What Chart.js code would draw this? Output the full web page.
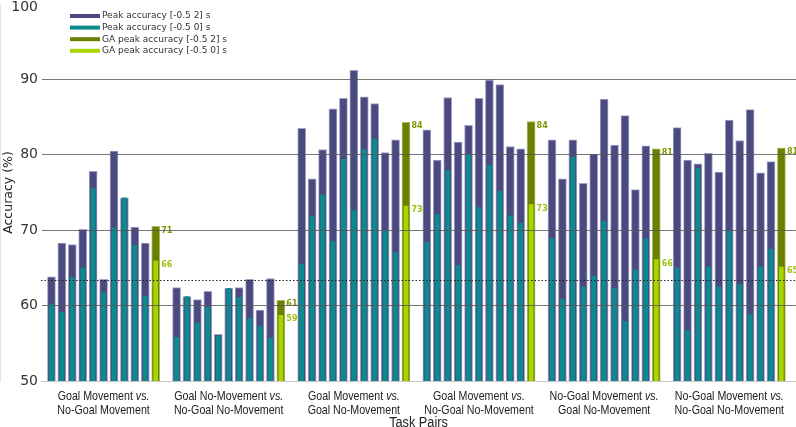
<!DOCTYPE html>
<html>
<head>
<meta charset="utf-8">
<script src="https://cdn.jsdelivr.net/npm/chart.js@4.4.1/dist/chart.umd.min.js"></script>
<style>
html,body{margin:0;padding:0;background:#fff;overflow:hidden}
#wrap{width:796px;height:427px;position:relative}
</style>
</head>
<body>
<div id="wrap"><canvas id="c" width="796" height="427"></canvas></div>
<script>
// ---- data ----
const taskPairs = [
  ['Goal Movement', 'No-Goal Movement'],
  ['Goal No-Movement', 'No-Goal No-Movement'],
  ['Goal Movement', 'Goal No-Movement'],
  ['Goal Movement', 'No-Goal No-Movement'],
  ['No-Goal Movement', 'Goal No-Movement'],
  ['No-Goal Movement', 'No-Goal No-Movement']
];
const seriesNames = ['Peak accuracy [-0.5 2] s', 'Peak accuracy [-0.5 0] s',
                     'GA peak accuracy [-0.5 2] s', 'GA peak accuracy [-0.5 0] s'];
const peakLong = [
  [63.8, 68.3, 68.1, 70.1, 77.8, 63.5, 80.5, 74.3, 70.4, 68.3],
  [62.4, 61.2, 60.8, 61.9, 56.2, 62.3, 62.4, 63.5, 59.4, 63.6],
  [83.5, 76.8, 80.7, 86.1, 87.5, 91.2, 87.7, 86.8, 80.3, 82.0],
  [83.3, 79.3, 87.6, 81.7, 83.9, 87.5, 89.9, 89.3, 81.1, 80.8],
  [82.0, 76.8, 82.0, 76.2, 80.1, 87.4, 81.3, 85.2, 75.4, 81.2],
  [83.6, 79.3, 78.8, 80.2, 77.7, 84.6, 81.9, 86.0, 77.6, 79.1]
];
const peakShort = [
  [60.2, 59.1, 63.7, 65.0, 75.5, 61.7, 70.3, 74.3, 68.0, 61.2],
  [55.8, 61.2, 57.7, 59.8, 56.0, 62.3, 61.1, 58.3, 57.3, 55.7],
  [65.5, 71.8, 74.7, 68.5, 79.4, 72.6, 80.7, 82.1, 70.0, 67.0],
  [68.4, 72.1, 77.9, 65.3, 80.1, 73.0, 78.6, 75.2, 71.9, 70.9],
  [68.9, 60.8, 79.7, 62.5, 63.9, 71.2, 62.3, 57.9, 64.7, 68.9],
  [65.0, 56.7, 78.2, 65.1, 62.5, 69.9, 62.8, 58.8, 65.1, 67.5]
];
const gaLong  = [70.5, 60.7, 84.3, 84.4, 80.8, 80.9];
const gaShort = [65.9, 58.7, 73.2, 73.4, 66.1, 65.1];
const chanceLevel = 63.4;
const yTicks = [50, 60, 70, 80, 90, 100];
const xTitle = 'Task Pairs';
const yTitle = 'Accuracy (%)';

// ---- slot positions (index units on the x scale) ----
const SLOTS_PER_GROUP = 12;   // 10 subjects + GA + gap
const slotOf = (g, j) => 1 + g * SLOTS_PER_GROUP + j;
const subjPts = arr => arr.flatMap((vals, g) => vals.map((v, j) => ({x: slotOf(g, j), y: v})));
const gaPts = arr => arr.map((v, g) => ({x: slotOf(g, 10), y: v}));

const COL = {
  long: '#4b4a80', longEdge: '#a3a2c8',
  short: '#088c8c',
  gaLong: '#6b8000', gaLongEdge: '#a9bb66',
  gaShort: '#a8d400',
  gaLongTxt: '#7e9500', gaShortTxt: '#9fc212'
};
const SANS = "'Liberation Sans', Arial, sans-serif";
const SQUEEZE = 0.82;   // condensed look

function condensedText(ctx, text, x, y, font, align) {
  ctx.save();
  ctx.font = font;
  const w = ctx.measureText(text).width * SQUEEZE;
  let sx = x;
  if (align === 'center') sx = x - w / 2;
  else if (align === 'right') sx = x - w;
  ctx.translate(sx, y);
  ctx.scale(SQUEEZE, 1);
  ctx.textAlign = 'left';
  ctx.fillText(text, 0, 0);
  ctx.restore();
  return w;
}
function condensedWidth(ctx, text, font) {
  ctx.save(); ctx.font = font;
  const w = ctx.measureText(text).width * SQUEEZE;
  ctx.restore(); return w;
}

const chanceLine = {
  id: 'chanceLine',
  afterDatasetsDraw(chart) {
    const {ctx, chartArea: a, scales: {y}} = chart;
    const py = Math.round(y.getPixelForValue(chanceLevel)) + 0.5;
    ctx.save();
    ctx.strokeStyle = '#222';
    ctx.lineWidth = 1;
    ctx.setLineDash([1.5, 2]);
    ctx.beginPath(); ctx.moveTo(a.left, py); ctx.lineTo(a.right, py); ctx.stroke();
    ctx.restore();
  }
};

const gaValueLabels = {
  id: 'gaValueLabels',
  afterDatasetsDraw(chart) {
    const {ctx} = chart;
    ctx.save();
    ctx.font = "bold 8px 'DejaVu Sans'";
    ctx.textAlign = 'left';
    ctx.textBaseline = 'middle';
    [[2, COL.gaLongTxt], [3, COL.gaShortTxt]].forEach(([di, col]) => {
      const meta = chart.getDatasetMeta(di);
      ctx.fillStyle = col;
      meta.data.forEach((bar, i) => {
        const v = chart.data.datasets[di].data[i].y;
        ctx.fillText(String(Math.round(v)), bar.x + 5.5, bar.y + 4);
      });
    });
    ctx.restore();
  }
};

const groupLabels = {
  id: 'groupLabels',
  afterDraw(chart) {
    const {ctx, chartArea: a, scales: {x}} = chart;
    ctx.save();
    ctx.fillStyle = '#222';
    ctx.textBaseline = 'middle';
    const fN = "13px " + SANS, fI = "italic 13px " + SANS;
    taskPairs.forEach(([t1, t2], g) => {
      const cx = x.getPixelForValue(slotOf(g, 5));
      const w1 = condensedWidth(ctx, t1 + ' ', fN);
      const w2 = condensedWidth(ctx, 'vs.', fI);
      const sx = cx - (w1 + w2) / 2;
      condensedText(ctx, t1 + ' ', sx, a.bottom + 15, fN, 'left');
      condensedText(ctx, 'vs.', sx + w1, a.bottom + 15, fI, 'left');
      condensedText(ctx, t2, cx, a.bottom + 29, fN, 'center');
    });
    condensedText(ctx, xTitle, (a.left + a.right) / 2, a.bottom + 42, "15.5px " + SANS, 'center');
    ctx.restore();
  }
};

const boxLegend = {
  id: 'boxLegend',
  afterDraw(chart) {
    const {ctx} = chart;
    const cols = [COL.long, COL.short, COL.gaLong, COL.gaShort];
    ctx.save();
    ctx.font = "9px 'DejaVu Sans'";
    ctx.textBaseline = 'middle';
    ctx.textAlign = 'left';
    chart.data.datasets.forEach((ds, i) => {
      const cy = 16 + i * 11.6;
      ctx.fillStyle = cols[i];
      ctx.fillRect(70, cy - 2, 30, 4);
      ctx.fillStyle = '#333';
      ctx.fillText(ds.label, 102, cy);
    });
    ctx.restore();
  }
};

new Chart(document.getElementById('c'), {
  type: 'bar',
  data: {
    datasets: [
      {label: seriesNames[0], data: subjPts(peakLong), backgroundColor: COL.long, borderColor: COL.longEdge,
       borderWidth: 1, barThickness: 8, grouped: false, order: 4},
      {label: seriesNames[1], data: subjPts(peakShort), backgroundColor: COL.short,
       borderWidth: 0, barThickness: 4, grouped: false, order: 3},
      {label: seriesNames[2], data: gaPts(gaLong), backgroundColor: COL.gaLong, borderColor: COL.gaLongEdge,
       borderWidth: 1, barThickness: 8, grouped: false, order: 2},
      {label: seriesNames[3], data: gaPts(gaShort), backgroundColor: COL.gaShort,
       borderWidth: 0, barThickness: 4, grouped: false, order: 1}
    ]
  },
  options: {
    responsive: false,
    animation: false,
    layout: {padding: {top: 4, left: 0, right: 0, bottom: 0}},
    plugins: {legend: {display: false}, tooltip: {enabled: false}},
    scales: {
      x: {
        type: 'linear', min: 0, max: 72.4, offset: false,
        grid: {display: false, drawTicks: false},
        border: {display: true, color: '#c8c8c8'},
        ticks: {display: false},
        title: {display: false},
        afterFit: s => { s.height = 46; s.paddingLeft = 0; s.paddingRight = 0; }
      },
      y: {
        min: 50, max: 100,
        afterBuildTicks: s => { s.ticks = yTicks.map(v => ({value: v})); },
        ticks: {color: '#333', padding: 3, font: {family: 'DejaVu Sans', size: 14, lineHeight: 0.45},
                callback: v => (v === 100 ? ['', String(v)] : String(v))},
        grid: {z: 1, drawTicks: false, lineWidth: 1,
               color: c => (c.tick && c.tick.value > 50 && c.tick.value < 100) ? 'rgba(85,85,85,0.8)' : 'rgba(0,0,0,0)'},
        border: {display: true, color: '#c8c8c8'},
        title: {display: true, text: yTitle, color: '#222',
                font: {family: 'DejaVu Sans', size: 12.5, lineHeight: 1}, padding: {top: 2, bottom: 0}},
        afterFit: s => { s.width = 41; s.paddingTop = 0; s.paddingBottom = 0; }
      }
    }
  },
  plugins: [chanceLine, gaValueLabels, groupLabels, boxLegend]
});
</script>
</body>
</html>
